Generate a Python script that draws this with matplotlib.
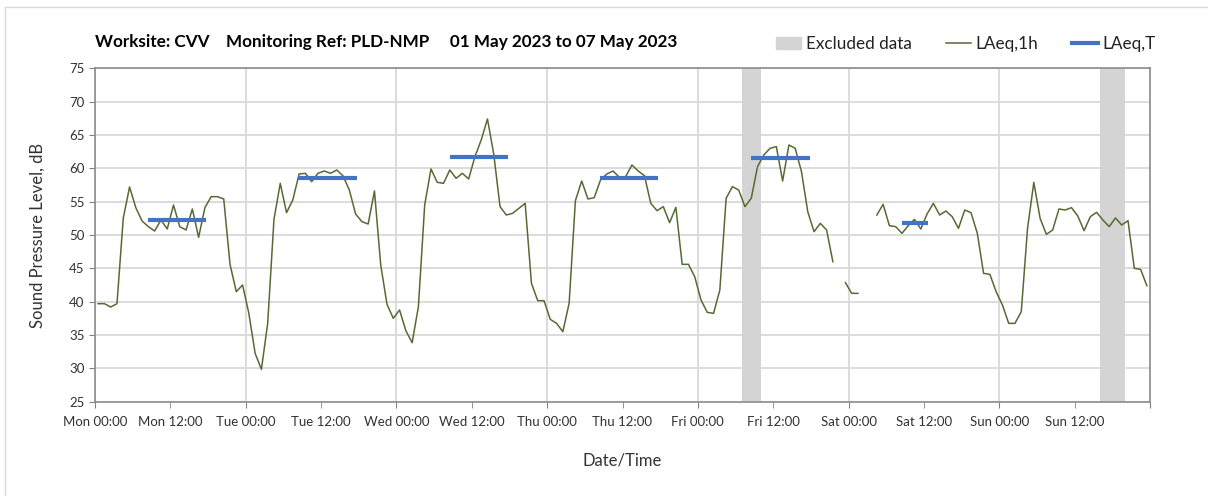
import numpy as np
import matplotlib
matplotlib.use('Agg')
import matplotlib.pyplot as plt
from matplotlib.lines import Line2D
from matplotlib.patches import Patch

plt.rcParams['font.family'] = ['Lato', 'DejaVu Sans']

# hourly LAeq,1h values, Mon 00:00 to Sun 23:00 (nan = no data)
laeq_1h = [
    39.7, 39.7, 39.2, 39.7, 52.5, 57.2, 54.1, 52.1, 51.25, 50.6, 52.25, 50.9,
    54.5, 51.25, 50.75, 53.9, 49.65, 54.1, 55.75, 55.75, 55.4, 45.6, 41.5, 42.5,
    38.25, 32.25, 29.85, 36.75, 52.35, 57.75, 53.35, 55.25, 59.15, 59.25, 58.0, 59.25,
    59.6, 59.25, 59.75, 58.85, 56.75, 53.15, 52.0, 51.65, 56.6, 45.5, 39.6, 37.5,
    38.75, 35.65, 33.85, 39.25, 54.5, 59.9, 57.9, 57.75, 59.75, 58.5, 59.25, 58.4,
    61.75, 64.25, 67.4, 62.1, 54.25, 53.0, 53.25, 54.0, 54.75, 42.75, 40.15, 40.15,
    37.35, 36.75, 35.5, 39.75, 55.15, 58.1, 55.4, 55.6, 58.25, 59.15, 59.6, 58.65,
    58.75, 60.5, 59.6, 58.9, 54.75, 53.65, 54.25, 51.85, 54.15, 45.6, 45.6, 43.75,
    40.25, 38.4, 38.25, 41.75, 55.5, 57.25, 56.75, 54.25, 55.5, 60.25, 62.0, 63.0,
    63.25, 58.1, 63.5, 63.0, 59.5, 53.5, 50.5, 51.75, 50.75, 46.0, np.nan, 42.85,
    41.25, 41.25, np.nan, np.nan, 53.0, 54.6, 51.4, 51.25, 50.25, 51.4, 52.35, 50.9,
    53.15, 54.75, 53.0, 53.6, 52.75, 51.0, 53.75, 53.35, 50.25, 44.25, 44.1, 41.5,
    39.5, 36.75, 36.75, 38.5, 51.0, 57.9, 52.5, 50.1, 50.75, 53.9, 53.75, 54.1,
    52.85, 50.65, 52.75, 53.4, 52.25, 51.25, 52.55, 51.5, 52.15, 45.0, 44.85, 42.4,
]

# LAeq,T periods (hours from Mon 00:00) and levels
laeqT_start = [8.4, 32.4, 56.5, 80.4, 104.5, 128.5]
laeqT_end = [17.7, 41.7, 65.7, 89.7, 113.8, 132.6]
laeqT_level = [52.25, 58.55, 61.7, 58.6, 61.55, 51.8]

# excluded periods (hours from Mon 00:00)
excl_start = [103, 160]
excl_end = [106, 164]

days = ['Mon', 'Tue', 'Wed', 'Thu', 'Fri', 'Sat', 'Sun']

hours = np.arange(len(laeq_1h)) + 0.5

fig = plt.figure(figsize=(12.08, 4.96), dpi=100)
ax = fig.add_axes([95/1208, 1-401.7/496, 1055/1208, 333.4/496])

# excluded data bands
for s, e in zip(excl_start, excl_end):
    ax.axvspan(s, e, color='#d4d4d4', lw=0, zorder=1)

ax.plot(hours, laeq_1h, color='#556b35', lw=1.1, zorder=3)
ax.hlines(laeqT_level, laeqT_start, laeqT_end, color='#4472c4', lw=3, zorder=4)

ax.set_xlim(0, 168)
ax.set_ylim(25, 75)
ax.set_yticks(np.arange(25, 76, 5))

# day ticks with grid, noon ticks labelled as minor
ax.set_xticks(np.arange(12, 168, 24), labels=[d + ' 12:00' for d in days], minor=True)
ax.set_xticks(np.arange(0, 169, 24), labels=[d + ' 00:00' for d in days] + [''])

ax.grid(True, which='major', color='#d9d9d9', lw=1.3, zorder=0)
ax.set_axisbelow(True)

ax.tick_params(axis='both', which='both', colors='#808080', labelcolor='#333333',
               labelsize=9.5, length=4, direction='out')
ax.tick_params(axis='x', which='both', pad=6)
for sp in ax.spines.values():
    sp.set_color('#8c8c8c')
    sp.set_linewidth(1.2)

ax.set_ylabel('Sound Pressure Level, dB', fontsize=12, color='#333333', labelpad=17)
ax.set_xlabel('Date/Time', fontsize=12, color='#333333', labelpad=18)

fig.text(95/1208, 1-42/496, 'Worksite: CVV    Monitoring Ref: PLD-NMP     01 May 2023 to 07 May 2023',
         fontsize=12.3, fontweight='bold', va='center', ha='left')

handles = [Patch(color='#d4d4d4'),
           Line2D([], [], color='#556b35', lw=1.1),
           Line2D([], [], color='#4472c4', lw=3)]
fig.legend(handles, ['Excluded data', 'LAeq,1h', 'LAeq,T'], ncol=3, frameon=False,
           loc='center right', bbox_to_anchor=(1171/1208, 1-44/496),
           fontsize=12.3, handlelength=1.5, handletextpad=0.25, columnspacing=2.0,
           labelcolor='#222222')

# light frame around the chart
fig.add_artist(Line2D([5/1208, 5/1208], [0, 1-7/496], color='#d9d9d9', lw=1))
fig.add_artist(Line2D([5/1208, 1], [1-7/496, 1-7/496], color='#d9d9d9', lw=1))

fig.savefig('out.png', dpi=100)
